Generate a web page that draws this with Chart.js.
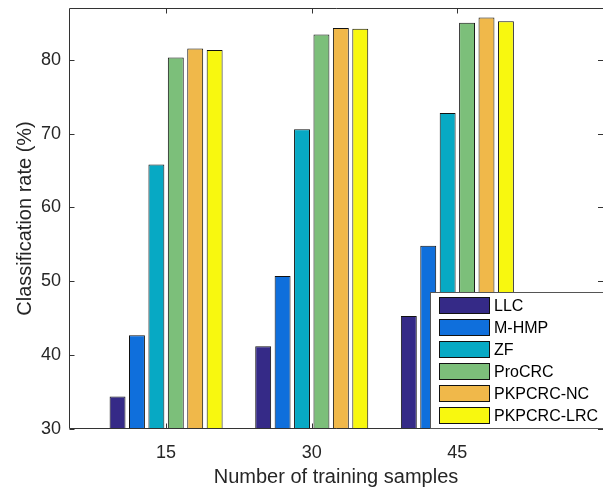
<!DOCTYPE html>
<html>
<head>
<meta charset="utf-8">
<script src="https://cdn.jsdelivr.net/npm/chart.js@4/dist/chart.umd.min.js"></script>
<style>
  html, body { margin: 0; padding: 0; background: #fff; }
  #wrap { width: 603px; height: 488px; position: relative; }
</style>
</head>
<body>
<div id="wrap"><canvas id="c"></canvas></div>
<script>
// ---- data ----
const categories = [15, 30, 45];
const seriesNames = ['LLC', 'M-HMP', 'ZF', 'ProCRC', 'PKPCRC-NC', 'PKPCRC-LRC'];
const llc       = [34.4, 41.2, 45.3];
const mhmp      = [42.7, 50.7, 54.8];
const zf        = [65.8, 70.6, 72.8];
const procrc    = [80.3, 83.4, 85.0];
const pkpcrcNC  = [81.5, 84.3, 85.7];
const pkpcrcLRC = [81.3, 84.2, 85.2];
const yTicks = [30, 40, 50, 60, 70, 80];
const xTicks = [15, 30, 45];

const seriesValues = [llc, mhmp, zf, procrc, pkpcrcNC, pkpcrcLRC];
const colors = ['#352a87', '#0f6fdc', '#07a9c4', '#7cbf7a', '#f0b84a', '#f8f80f'];
const axisColor = '#262626';
const FONT = '"Liberation Sans", Arial, Helvetica, sans-serif';

const datasets = seriesNames.map((name, i) => ({
  label: name,
  data: categories.map((c, j) => ({ x: c, y: seriesValues[i][j] })),
  backgroundColor: colors[i],
  borderColor: '#111',
  borderWidth: 1,
  borderSkipped: false,
  categoryPercentage: 0.8,
  barPercentage: 0.82
}));

const frame = {
  id: 'frame',
  afterDatasetsDraw(chart) {
    const { ctx, chartArea: a, scales } = chart;
    const L = Math.round(a.left) + 0.5, R = 603;
    const T = Math.round(a.top) + 0.5, B = Math.round(a.bottom) - 0.5;
    ctx.save();
    ctx.strokeStyle = '#333';
    ctx.lineWidth = 1;
    ctx.beginPath();
    ctx.moveTo(L, T); ctx.lineTo(R, T);
    ctx.moveTo(L, T); ctx.lineTo(L, B);
    ctx.moveTo(L, B); ctx.lineTo(R, B);
    const tl = 5;
    yTicks.forEach(v => {
      const y = Math.round(scales.y.getPixelForValue(v)) + 0.5;
      ctx.moveTo(L, y); ctx.lineTo(L + tl, y);
      ctx.moveTo(R, y); ctx.lineTo(R - tl, y);
    });
    xTicks.forEach(v => {
      const x = Math.round(scales.x.getPixelForValue(v)) + 0.5;
      ctx.moveTo(x, B); ctx.lineTo(x, B - tl);
      ctx.moveTo(x, T); ctx.lineTo(x, T + tl);
    });
    ctx.stroke();

    // legend box
    const lx = 430.5, ly = 292.5, lw = 180, lh = 136;
    ctx.fillStyle = '#fff';
    ctx.fillRect(lx, ly, lw, lh);
    ctx.strokeStyle = '#555';
    ctx.strokeRect(lx, ly, lw, lh);
    ctx.font = '16px ' + FONT;
    ctx.textBaseline = 'middle';
    ctx.textAlign = 'left';
    chart.data.datasets.forEach((ds, i) => {
      const cy = 305.5 + i * 22;
      ctx.fillStyle = ds.backgroundColor;
      ctx.fillRect(439.5, cy - 8, 50, 16);
      ctx.strokeStyle = '#111';
      ctx.strokeRect(439.5, cy - 8, 50, 16);
      ctx.fillStyle = '#000';
      ctx.fillText(ds.label, 494, cy + 1);
    });
    ctx.restore();
  }
};

new Chart(document.getElementById('c'), {
  type: 'bar',
  data: { datasets },
  options: {
    responsive: true,
    maintainAspectRatio: false,
    animation: false,
    devicePixelRatio: 1,
    layout: { padding: { top: 8, right: 0, left: 0, bottom: 0 } },
    plugins: { legend: { display: false }, tooltip: { enabled: false } },
    scales: {
      x: {
        type: 'linear',
        min: 5, max: 60,
        offset: false,
        grid: { display: false, drawTicks: false },
        border: { display: false },
        afterBuildTicks: s => { s.ticks = xTicks.map(v => ({ value: v })); },
        afterFit: s => { s.height = 59; s.paddingLeft = 0; s.paddingRight = 0; },
        ticks: { color: axisColor, font: { family: FONT, size: 18 }, padding: 13, maxRotation: 0, autoSkip: false },
        title: { display: true, text: 'Number of training samples', color: axisColor,
                 font: { family: FONT, size: 20 }, padding: { top: 0, bottom: -1 } }
      },
      y: {
        min: 30, max: 87,
        grid: { display: false, drawTicks: false },
        border: { display: false },
        afterBuildTicks: s => { s.ticks = yTicks.map(v => ({ value: v })); },
        afterFit: s => { s.width = 69; s.paddingTop = 0; s.paddingBottom = 0; },
        ticks: { color: axisColor, font: { family: FONT, size: 18 }, padding: 8 },
        title: { display: true, text: 'Classification rate (%)', color: axisColor,
                 font: { family: FONT, size: 20 }, padding: { top: 13, bottom: 0 } }
      }
    }
  },
  plugins: [frame]
});
</script>
</body>
</html>
